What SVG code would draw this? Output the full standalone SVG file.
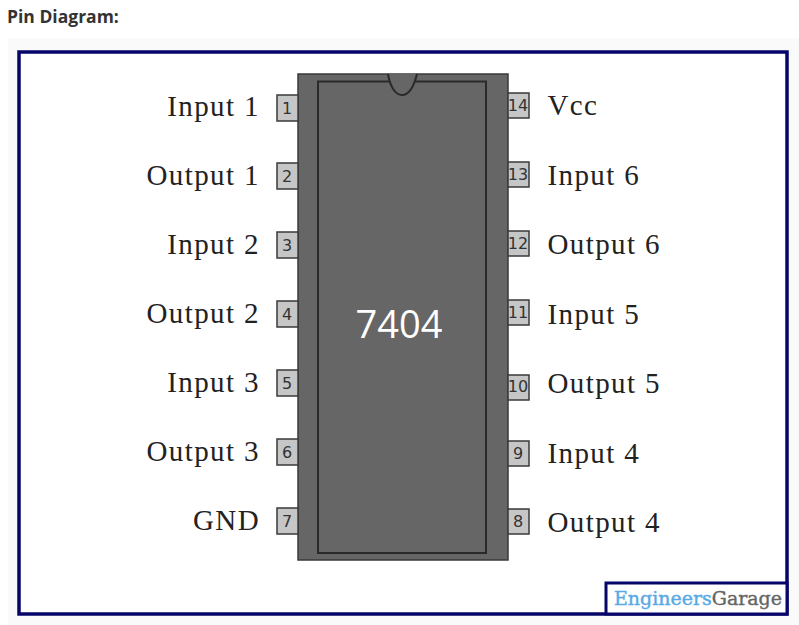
<svg xmlns="http://www.w3.org/2000/svg" width="799" height="625" viewBox="0 0 799 625">
<style>
.lbl{font-family:"Liberation Serif",serif;font-size:29px;fill:#222;letter-spacing:1.4px}
.l{text-anchor:end}
.pin{fill:#c6c6c6;stroke:#3a3a3a;stroke-width:1.5}
.num{font-family:"DejaVu Sans",sans-serif;font-size:16px;fill:#333;text-anchor:middle}
</style>
<rect width="799" height="625" fill="#fff"/>
<rect x="8" y="38" width="791" height="587" fill="#fafafa"/>
<text x="7" y="23" font-family="Open Sans,DejaVu Sans,sans-serif" font-weight="700" font-size="17.500px" fill="#333">Pin Diagram:</text>
<rect id="frame" x="19" y="52" width="768" height="562" fill="#fff" stroke="#05056a" stroke-width="3.500"/>
<g id="chip">
<rect x="298" y="74" width="210" height="486" fill="#666" stroke="#3a3a3a" stroke-width="1.500"/>
<rect x="318" y="81.500" width="168" height="471.500" fill="#666" stroke="#2a2a2a" stroke-width="2"/>
<path d="M388 74C390 86 395 95 402 95C409 95 414 86 417 74Z" fill="#666"/>
<path d="M388 74C390 86 395 95 402 95C409 95 414 86 417 74" fill="none" stroke="#2a2a2a" stroke-width="2"/>
<text x="399" y="338" font-family="Open Sans,DejaVu Sans,sans-serif" font-size="38px" fill="#fff" text-anchor="middle">7404</text>
</g>
<g id="pin1"><rect class="pin" x="277" y="95" width="21" height="26"/><text class="num" x="287" y="114">1</text><text class="lbl l" x="260" y="115.500">Input 1</text></g>
<g id="pin2"><rect class="pin" x="277" y="163" width="21" height="26"/><text class="num" x="287" y="182">2</text><text class="lbl l" x="260" y="184.500">Output 1</text></g>
<g id="pin3"><rect class="pin" x="277" y="232" width="21" height="26"/><text class="num" x="287" y="251">3</text><text class="lbl l" x="260" y="253.500">Input 2</text></g>
<g id="pin4"><rect class="pin" x="277" y="301" width="21" height="26"/><text class="num" x="287" y="320">4</text><text class="lbl l" x="260" y="322.500">Output 2</text></g>
<g id="pin5"><rect class="pin" x="277" y="370" width="21" height="26"/><text class="num" x="287" y="389">5</text><text class="lbl l" x="260" y="391.500">Input 3</text></g>
<g id="pin6"><rect class="pin" x="277" y="439" width="21" height="26"/><text class="num" x="287" y="458">6</text><text class="lbl l" x="260" y="460.500">Output 3</text></g>
<g id="pin7"><rect class="pin" x="277" y="508" width="21" height="26"/><text class="num" x="287" y="527">7</text><text class="lbl l" x="260" y="529.500">GND</text></g>
<g id="pin14"><rect class="pin" x="508" y="93" width="21" height="25"/><text class="num" x="518" y="111">14</text><text class="lbl" x="547.500" y="115">Vcc</text></g>
<g id="pin13"><rect class="pin" x="508" y="162" width="21" height="25"/><text class="num" x="518" y="180">13</text><text class="lbl" x="547.500" y="185">Input 6</text></g>
<g id="pin12"><rect class="pin" x="508" y="231" width="21" height="25"/><text class="num" x="518" y="249">12</text><text class="lbl" x="547.500" y="254">Output 6</text></g>
<g id="pin11"><rect class="pin" x="508" y="300" width="21" height="25"/><text class="num" x="518" y="318">11</text><text class="lbl" x="547.500" y="324">Input 5</text></g>
<g id="pin10"><rect class="pin" x="508" y="375" width="21" height="25"/><text class="num" x="518" y="392">10</text><text class="lbl" x="547.500" y="393">Output 5</text></g>
<g id="pin9"><rect class="pin" x="508" y="441" width="21" height="25"/><text class="num" x="518" y="459">9</text><text class="lbl" x="547.500" y="463">Input 4</text></g>
<g id="pin8"><rect class="pin" x="508" y="509" width="21" height="25"/><text class="num" x="518" y="527">8</text><text class="lbl" x="547.500" y="532">Output 4</text></g>
<g id="logo">
<rect x="606" y="583" width="181" height="31" fill="#fff" stroke="#05056a" stroke-width="3"/>
<text x="614" y="605" font-family="DejaVu Serif,serif" font-size="19px" stroke-width="0.400" textLength="168"><tspan fill="#58a9e6" stroke="#58a9e6">Engineers</tspan><tspan fill="#666" stroke="#666">Garage</tspan></text>
</g>
</svg>
